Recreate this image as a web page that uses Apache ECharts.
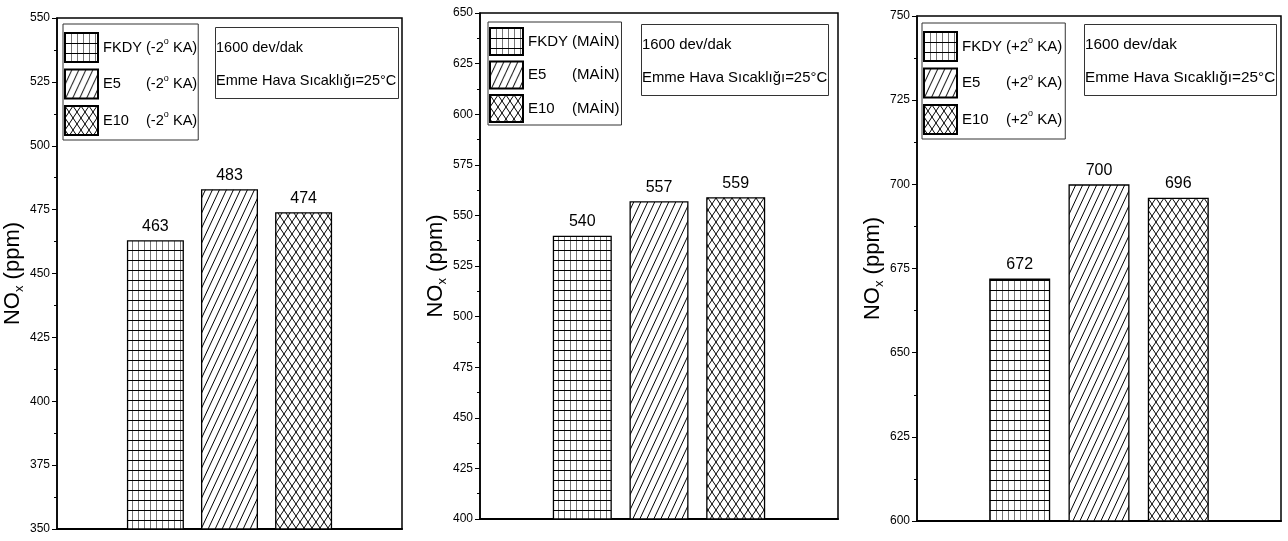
<!DOCTYPE html>
<html>
<head>
<meta charset="utf-8">
<script src="https://cdn.jsdelivr.net/npm/echarts@6/dist/echarts.min.js"></script>
<style>
html,body{margin:0;padding:0;background:#fff;}
#chart{width:1288px;height:541px;}
</style>
</head>
<body>
<div id="chart"></div>
<script>
// ---- data ----
const fuels = ['FKDY', 'E5', 'E10'];
const conditions = ['(-2° KA)', '(MAİN)', '(+2° KA)'];
const noxMinus2 = [463, 483, 474];
const noxMain = [540, 557, 559];
const noxPlus2 = [672, 700, 696];
const yMin = [350, 400, 600];
const yMax = [550, 650, 750];
const yStep = 25;
const infoLines = ['1600 dev/dak', 'Emme Hava Sıcaklığı=25°C'];
const yTitleMain = 'NO';
const yTitleSub = 'x';
const yTitleUnit = ' (ppm)';

const panelValues = [noxMinus2, noxMain, noxPlus2];

const FONT = "'Liberation Sans', Arial, sans-serif";

// ---- hatch patterns ----
function makePattern(type) {
  const c = document.createElement('canvas');
  let w, h;
  if (type === 'grid') { w = 6; h = 10; }
  else if (type === 'diag') { w = 7; h = 15; }
  else { w = 8; h = 12; }
  c.width = w; c.height = h;
  const g = c.getContext('2d');
  g.fillStyle = '#fff';
  g.fillRect(0, 0, w, h);
  g.lineWidth = 1;
  if (type === 'grid') {
    g.strokeStyle = '#777';
    g.beginPath(); g.moveTo(0.5, 0); g.lineTo(0.5, h); g.stroke();
    g.strokeStyle = '#000';
    g.beginPath(); g.moveTo(0, 0.5); g.lineTo(w, 0.5); g.stroke();
  } else if (type === 'diag') {
    g.strokeStyle = '#000';
    for (let x0 = -w; x0 <= w; x0 += w) {
      g.beginPath(); g.moveTo(x0, h); g.lineTo(x0 + w, 0); g.stroke();
    }
  } else {
    g.strokeStyle = '#000';
    for (let x0 = -w; x0 <= w; x0 += w) {
      g.beginPath(); g.moveTo(x0, h); g.lineTo(x0 + w, 0); g.stroke();
      g.beginPath(); g.moveTo(x0, 0); g.lineTo(x0 + w, h); g.stroke();
    }
  }
  return { image: c, repeat: 'repeat' };
}
const patterns = [makePattern('grid'), makePattern('diag'), makePattern('cross')];

// ---- layout ----
const grids = [
  { left: 57, top: 18, width: 345, height: 511 },
  { left: 480, top: 13, width: 358, height: 506 },
  { left: 917, top: 16, width: 364, height: 505 }
];
const barW = [57, 59, 61];
const legendPos = [
  { left: 63, top: 24, itemHeight: 29, itemGap: 5.5, padding: [8, 1, 4, 1], fw: 43, fs: 14.6 },
  { left: 488, top: 22, itemHeight: 27, itemGap: 4.5, padding: [5, 2, 2, 1], fw: 44, fs: 15 },
  { left: 922, top: 23, itemHeight: 29, itemGap: 5.5, padding: [8, 3, 4, 1], fw: 44, fs: 15 }
];
const infoPos = [
  { left: 215, top: 27, fs: 14.5 },
  { left: 641, top: 24, fs: 14.9 },
  { left: 1084, top: 24, fs: 15.3 }
];

const option = {
  animation: false,
  backgroundColor: '#fff',
  grid: grids.map(g => Object.assign({ show: true, borderColor: '#000', borderWidth: 1.5, backgroundColor: 'transparent' }, g)),
  xAxis: grids.map((g, p) => ({
    type: 'category', gridIndex: p, data: [''],
    axisLine: { show: true, lineStyle: { color: '#000', width: 2 } },
    axisTick: { show: false }, axisLabel: { show: false }, splitLine: { show: false }
  })),
  yAxis: grids.map((g, p) => ({
    type: 'value', gridIndex: p, min: yMin[p], max: yMax[p], interval: yStep,
    axisLine: { show: true, lineStyle: { color: '#000', width: 1.5 } },
    axisTick: { show: true, inside: false, length: 5, lineStyle: { color: '#000', width: 1 } },
    minorTick: { show: true, splitNumber: 2, length: 3, lineStyle: { color: '#000', width: 1 } },
    splitLine: { show: false }, minorSplitLine: { show: false },
    axisLabel: { color: '#000', fontSize: 12, fontFamily: FONT, margin: 7 },
    name: '{a|' + yTitleMain + '}{s|' + yTitleSub + '}{a|' + yTitleUnit + '}',
    nameLocation: 'middle', nameGap: 30,
    nameTextStyle: {
      color: '#000',
      rich: {
        a: { fontSize: 22, fontFamily: FONT, color: '#000', lineHeight: 26 },
        s: { fontSize: 13, fontFamily: FONT, color: '#000', verticalAlign: 'bottom', lineHeight: 26 }
      }
    }
  })),
  legend: grids.map((g, p) => ({
    orient: 'vertical',
    left: legendPos[p].left, top: legendPos[p].top,
    padding: legendPos[p].padding,
    itemWidth: 33, itemHeight: legendPos[p].itemHeight, itemGap: legendPos[p].itemGap,
    icon: 'rect',
    borderColor: '#333', borderWidth: 1,
    selectedMode: false,
    data: fuels.map(f => f + ' ' + conditions[p]),
    formatter: function (name) {
      const i = name.indexOf(' ');
      const fuel = name.slice(0, i);
      const cond = name.slice(i + 1);
      const parts = cond.split('°');
      let s = '{f|' + fuel + '}{c|' + parts[0] + '}';
      if (parts.length > 1) s += '{s|o}{c|' + parts[1] + '}';
      return s;
    },
    textStyle: {
      color: '#000',
      rich: {
        f: { width: legendPos[p].fw, fontSize: legendPos[p].fs, fontFamily: FONT, color: '#000', lineHeight: 20 },
        c: { fontSize: legendPos[p].fs, fontFamily: FONT, color: '#000', lineHeight: 20 },
        s: { fontSize: 9, fontFamily: FONT, color: '#000', verticalAlign: 'top', lineHeight: 13 }
      }
    }
  })),
  title: grids.map((g, p) => ({
    text: infoLines.join('\n'),
    left: infoPos[p].left, top: infoPos[p].top,
    borderColor: '#333', borderWidth: 1,
    padding: [4, 2, 2, 1],
    textStyle: { fontSize: infoPos[p].fs, fontFamily: FONT, fontWeight: 'normal', color: '#000', lineHeight: 33 }
  })),
  series: []
};

panelValues.forEach((vals, p) => {
  fuels.forEach((f, i) => {
    option.series.push({
      type: 'bar',
      name: f + ' ' + conditions[p],
      xAxisIndex: p, yAxisIndex: p,
      data: [vals[i]],
      barWidth: barW[p],
      barGap: '30%',
      itemStyle: { color: patterns[i], borderColor: '#000', borderWidth: 1.3 },
      label: { show: true, position: 'top', distance: 6, color: '#000', fontSize: 16, fontFamily: FONT }
    });
  });
});

const chart = echarts.init(document.getElementById('chart'), null, { renderer: 'canvas' });
chart.setOption(option);
</script>
</body>
</html>
